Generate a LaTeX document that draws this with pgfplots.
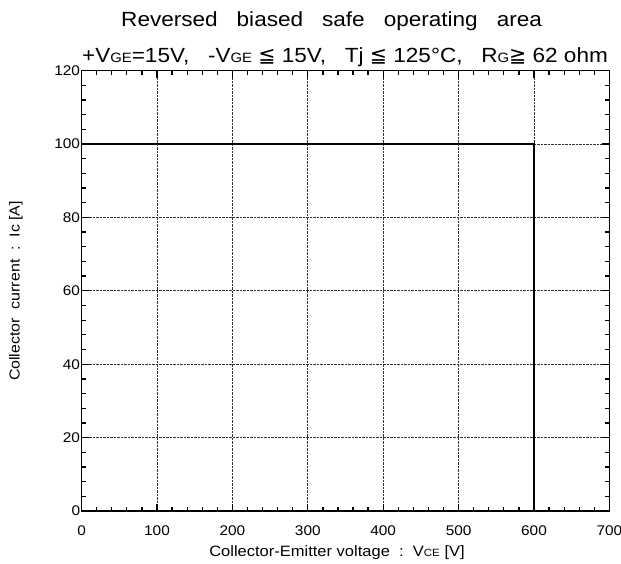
\documentclass[border=0pt]{standalone}
\usepackage{fontspec}
\setmainfont[FakeStretch=1.1]{Liberation Sans}
\newfontfamily\dejavu{DejaVu Sans}
\usepackage{pgfplots}
\pgfplotsset{compat=1.18}
% small capitals used as subscripts in the original (VGE, RG, VCE)
\newcommand{\sm}[1]{{\fontsize{13.5}{14}\selectfont #1}}
\newcommand{\smx}[1]{{\fontsize{10.5}{11}\selectfont #1}}
\newcommand{\gap}{\hspace{19pt}}
\begin{document}
\begin{tikzpicture}[x=1pt,y=1pt]
\useasboundingbox (-81.6,-53) rectangle (539.4,511);
\begin{axis}[
  scale only axis,
  width=527.8pt, height=440.4pt,
  at={(0,0)}, anchor=south west,
  xmin=0, xmax=700, ymin=0, ymax=120,
  xtick={0,100,...,700}, ytick={0,20,...,120},
  minor x tick num=4, minor y tick num=4,
  tick align=inside,
  major tick length=7pt, minor tick length=4pt,
  tick style={black, line width=1.3pt},
  grid=major,
  major grid style={black!80, densely dotted, line width=0.7pt},
  axis line style={line width=1.4pt},
  /pgf/number format/assume math mode=true,
  tick label style={font=\fontsize{14}{14}\selectfont},
  xticklabel style={yshift=-11pt},
  yticklabel style={xshift=2pt},
]
\addplot[black, line width=1.6pt] coordinates {(0,100) (600,100) (600,0)};
\end{axis}
\node[anchor=base, font=\fontsize{20.5}{20.5}\selectfont] at (250,484)
  {Reversed\gap biased\gap safe\gap operating\gap area};
\node[anchor=base, font=\fontsize{20.5}{20.5}\selectfont] at (263.4,448)
  {+V\sm{GE}=15V,\ \ \ -V\sm{GE} {\dejavu ≦} 15V,\ \ \ Tj {\dejavu ≦} 125°C,\ \ \ R\sm{G}{\dejavu ≧} 62 ohm};
\node[rotate=90, font=\fontsize{14.5}{14.5}\selectfont] at (-65.6,220)
  {Collector\ \ current\ \ :\ \ Ic [A]};
\node[font=\fontsize{15}{15}\selectfont] at (255.4,-41.7)
  {Collector-Emitter\ voltage\ \ :\ \ V\smx{CE} [V]};
\end{tikzpicture}
\end{document}
